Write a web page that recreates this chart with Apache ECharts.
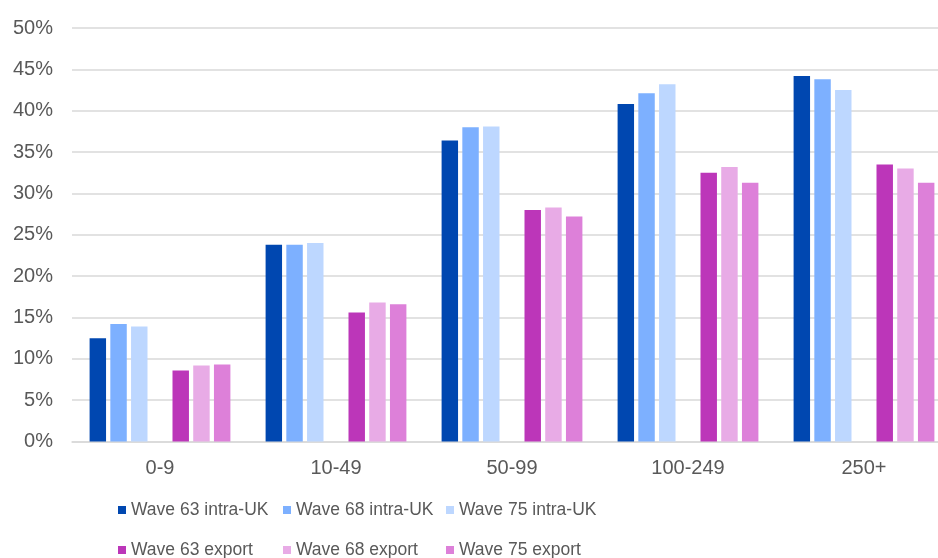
<!DOCTYPE html>
<html>
<head>
<meta charset="utf-8">
<style>
  html, body { margin: 0; padding: 0; background: #ffffff; }
  #chart { width: 938px; height: 558px; }
</style>
<script src="https://cdn.jsdelivr.net/npm/echarts@6/dist/echarts.min.js"></script>
</head>
<body>
<div id="chart"></div>
<script>
// Share of businesses trading, by employee size band (%)
const categories = ['0-9', '10-49', '50-99', '100-249', '250+'];
const yTicks = { min: 0, max: 50, interval: 5 };

const wave63Intra = [12.5, 23.8, 36.4, 40.8, 44.2];
const wave68Intra = [14.2, 23.8, 38.0, 42.1, 43.8];
const wave75Intra = [13.9, 24.0, 38.1, 43.2, 42.5];
const wave63Export = [8.6, 15.6, 28.0, 32.5, 33.5];
const wave68Export = [9.2, 16.8, 28.3, 33.2, 33.0];
const wave75Export = [9.3, 16.6, 27.2, 31.3, 31.3];

const intraNames = ['Wave 63 intra-UK', 'Wave 68 intra-UK', 'Wave 75 intra-UK'];
const exportNames = ['Wave 63 export', 'Wave 68 export', 'Wave 75 export'];

const textColor = '#595959';
const font = 'Liberation Sans, Arial, sans-serif';

function bar(name, data, color) {
  return {
    name: name,
    type: 'bar',
    data: data,
    barGap: '26%',
    barCategoryGap: '20%',
    itemStyle: { color: color },
    emphasis: { disabled: true }
  };
}

// one legend entry per cell of a 3 x 2 layout
const legendCols = [118, 283, 446];
const legendRows = [501, 541];
function legendCell(name, col, row) {
  return {
    left: legendCols[col],
    top: legendRows[row],
    padding: 0,
    icon: 'rect',
    itemWidth: 8,
    itemHeight: 8,
    selectedMode: false,
    data: [name],
    textStyle: { color: textColor, fontSize: 17.5, fontFamily: font }
  };
}

const legends = [];
intraNames.forEach((n, i) => legends.push(legendCell(n, i, 0)));
exportNames.forEach((n, i) => legends.push(legendCell(n, i, 1)));

const chart = echarts.init(document.getElementById('chart'));
chart.setOption({
  animation: false,
  backgroundColor: '#ffffff',
  grid: {
    left: 72, width: 880, top: 28, bottom: 116.5,
    containLabel: false,
    outerBoundsMode: 'none'
  },
  legend: legends,
  xAxis: {
    type: 'category',
    data: categories,
    axisTick: { show: false },
    axisLine: { show: true, lineStyle: { color: '#d9d9d9', width: 1.5 } },
    axisLabel: {
      color: textColor,
      fontSize: 20,
      fontFamily: font,
      margin: 17
    }
  },
  yAxis: {
    type: 'value',
    min: yTicks.min,
    max: yTicks.max,
    interval: yTicks.interval,
    axisLine: { show: false },
    axisTick: { show: false },
    splitLine: { lineStyle: { color: '#d9d9d9', width: 1.5 } },
    axisLabel: {
      color: textColor,
      fontSize: 20,
      fontFamily: font,
      margin: 19,
      formatter: '{value}%'
    }
  },
  series: [
    bar(intraNames[0], wave63Intra, '#0047b0'),
    bar(intraNames[1], wave68Intra, '#7db0ff'),
    bar(intraNames[2], wave75Intra, '#bdd7ff'),
    // empty slot separating the intra-UK and export bars
    { name: 'spacer', type: 'bar', data: categories.map(() => null), barGap: '26%', barCategoryGap: '20%' },
    bar(exportNames[0], wave63Export, '#bc36b9'),
    bar(exportNames[1], wave68Export, '#e8abe6'),
    bar(exportNames[2], wave75Export, '#dd80d9')
  ]
});
</script>
</body>
</html>
